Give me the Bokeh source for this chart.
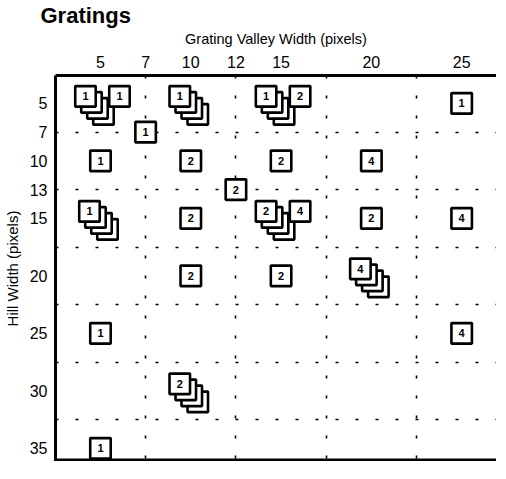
from bokeh.plotting import figure
from bokeh.models import FixedTicker, Range1d, ColumnDataSource, Title
from bokeh.core.properties import value
from bokeh.embed import file_html
from bokeh.resources import INLINE

# ---- axis categories ----
valley_cols = [5, 10, 15, 20, 25]              # main columns
valley_ticks = [5, 7, 10, 12, 15, 20, 25]      # tick labels (7, 12 sit on cell borders)
hill_rows = [5, 10, 15, 20, 25, 30, 35]        # main rows
hill_ticks = [5, 7, 10, 13, 15, 20, 25, 30, 35]

# ---- data: one entry per grating mark ----
g_valley = [5, 5, 10, 15, 15, 25,
            7,
            5, 10, 15, 20,
            12,
            5, 10, 15, 15, 20, 25,
            10, 15, 20,
            5, 25,
            10,
            5]
g_hill = [5, 5, 5, 5, 5, 5,
          7,
          10, 10, 10, 10,
          13,
          15, 15, 15, 15, 15, 15,
          20, 20, 20,
          25, 25,
          30,
          35]
g_label = ["1", "1", "1", "1", "2", "1",
           "1",
           "1", "2", "2", "4",
           "2",
           "1", "2", "2", "4", "2", "4",
           "2", "2", "4",
           "1", "4",
           "2",
           "1"]
g_layers = [4, 1, 4, 4, 1, 1,
            1,
            1, 1, 1, 1,
            1,
            4, 1, 4, 1, 1, 1,
            1, 1, 4,
            1, 1,
            4,
            1]

FONT = "Liberation Sans"


def to_pos(v, mains):
    if v in mains:
        return float(mains.index(v))
    for i in range(len(mains) - 1):
        if mains[i] < v < mains[i + 1]:
            return i + 0.5
    return float("nan")


# ---- figure geometry ----
FW, FH = 441, 386
B_LEFT, B_RIGHT, B_TOP, B_BOTTOM = 49, 0, 70, 0
x0 = -0.498
x1 = x0 + FW / 90.3
y0 = -0.484
y1 = y0 + FH / 57.5
kx = (x1 - x0) / FW   # data units per screen px
ky = (y1 - y0) / FH

p = figure(frame_width=FW, frame_height=FH, output_backend="svg", toolbar_location=None,
           x_range=Range1d(x0, x1), y_range=Range1d(y1, y0),
           x_axis_location="above", min_border_left=B_LEFT, min_border_right=B_RIGHT,
           min_border_top=B_TOP, min_border_bottom=B_BOTTOM)
p.outline_line_color = None
p.background_fill_color = "white"
p.border_fill_color = "white"

p.title = Title(text="Gratings", align="left", offset=-15, text_font=FONT,
                text_font_size="22px", text_font_style="bold", standoff=0,
                text_color="black")

# axes
xa = p.xaxis[0]
xa.ticker = FixedTicker(ticks=[to_pos(v, valley_cols) for v in valley_ticks])
xa.major_label_overrides = {to_pos(v, valley_cols): str(v) for v in valley_ticks}
xa.axis_label = "Grating Valley Width (pixels)"
ya = p.yaxis[0]
ya.ticker = FixedTicker(ticks=[to_pos(v, hill_rows) for v in hill_ticks])
ya.major_label_overrides = {to_pos(v, hill_rows): str(v) for v in hill_ticks}
ya.axis_label = "Hill Width (pixels)"

for ax in (xa, ya):
    ax.major_tick_out = 0
    ax.major_tick_in = 0
    ax.minor_tick_out = 0
    ax.minor_tick_in = 0
    ax.axis_line_width = 3
    ax.axis_line_color = "black"
    ax.major_label_text_font = FONT
    ax.major_label_text_font_size = "16px"
    ax.major_label_text_color = "black"
    ax.axis_label_text_font = FONT
    ax.axis_label_text_font_style = "normal"
    ax.axis_label_text_color = "black"
xa.axis_label_text_font_size = "14.5px"
ya.axis_label_text_font_size = "15px"
xa.major_label_standoff = 8
xa.axis_label_standoff = 6
ya.major_label_standoff = 8
ya.axis_label_standoff = 6

# bottom edge of the frame (the lower border of the plot box)
p.hspan(y=[y1], line_width=6, line_color="black")

# grid lines at borders between main categories
xb = [i + 0.5 for i in range(len(valley_cols) - 1)]
yb = [i + 0.5 for i in range(len(hill_rows) - 1)]
p.xgrid.ticker = FixedTicker(ticks=xb)
p.ygrid.ticker = FixedTicker(ticks=yb)
for g in (p.xgrid[0], p.ygrid[0]):
    g.grid_line_color = "black"
    g.grid_line_width = 1.6
    g.grid_line_dash = "3 17"
    g.grid_line_alpha = 1.0

# ---- layout of marks inside each cell (screen px offsets) ----
cells = {}
for i, (v, h) in enumerate(zip(g_valley, g_hill)):
    cells.setdefault((v, h), []).append(i)

fx, fy = [0.0] * len(g_label), [0.0] * len(g_label)
for (v, h), idx in cells.items():
    cx, cy = to_pos(v, valley_cols), to_pos(h, hill_rows)
    if len(idx) == 1:
        i = idx[0]
        ox, oy = (-11, -7) if g_layers[i] > 1 else (0, 0)
        fx[i], fy[i] = cx + ox * kx, cy + oy * ky
    else:
        for i, ox in zip(idx, (-15, 19)):
            fx[i], fy[i] = cx + ox * kx, cy - 7 * ky

STEP = 6  # px shift of each layer in a stack
SQ = 20.5
for layer in (3, 2, 1):
    xs = [fx[i] + layer * STEP * kx for i in range(len(g_label)) if g_layers[i] > layer]
    ys = [fy[i] + layer * STEP * ky for i in range(len(g_label)) if g_layers[i] > layer]
    p.scatter(xs, ys, marker="square", size=SQ, fill_color="white",
              line_color="black", line_width=2.6)

src = ColumnDataSource(dict(x=fx, y=fy, label=g_label))
p.scatter("x", "y", source=src, marker="square", size=SQ, fill_color="white",
          line_color="black", line_width=2.6)
p.text("x", "y", text="label", source=src, text_font=value(FONT),
       text_font_size="11px", text_font_style="bold", text_align="center",
       text_baseline="middle", text_color="black")

open("out.html", "w").write(file_html(p, INLINE))
